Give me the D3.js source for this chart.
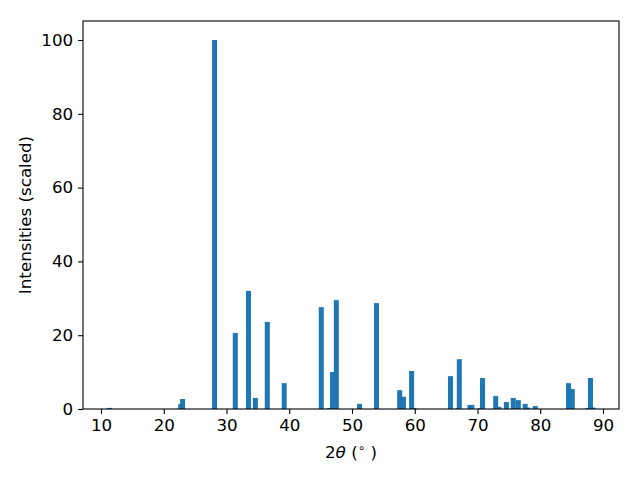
<!DOCTYPE html>
<html><head><meta charset="utf-8">
<script src="https://cdn.jsdelivr.net/npm/d3@7"></script>
<style>body{margin:0;background:#fff}svg{display:block}text{font-family:"DejaVu Sans",sans-serif}</style>
</head><body><svg id="c" width="640" height="480"></svg>
<script>
const twoTheta = [11.35, 22.7, 23.0, 28.1, 31.4, 33.5, 34.6, 36.5, 39.2, 45.1, 46.4, 46.9, 47.5, 51.2, 53.9, 57.6, 58.2, 59.5, 59.9,
  65.7, 66.9, 67.1, 68.8, 69.1, 70.5, 70.8, 72.9, 73.4, 74.6, 75.7, 76.5, 77.6, 78.0, 79.2, 84.5, 85.1, 87.6, 88.0, 88.4];
const intensity = [0.3, 1.3, 2.7, 100, 20.6, 32.0, 3.0, 23.6, 7.0, 27.6, 0.3, 10.0, 29.5, 1.4, 28.7, 5.1, 3.3, 10.3, 0.3,
  8.9, 0.3, 13.5, 1.1, 1.1, 0.3, 8.4, 3.5, 0.6, 1.9, 3.0, 2.4, 1.4, 0.4, 0.8, 7.0, 5.4, 0.3, 8.4, 0.4];
const xTicks = [10, 20, 30, 40, 50, 60, 70, 80, 90];
const yTicks = [0, 20, 40, 60, 80, 100];
const barWidth = 0.8;

const L = 83, R = 619, T = 21, B = 409;
const svg = d3.select("#c");
const x = d3.scaleLinear().domain([7.131, 92.55]).range([L, R]);
const y = d3.scaleLinear().domain([0, 105.15]).range([B, T]);

svg.append("g").selectAll("rect").data(twoTheta).join("rect")
  .attr("x", (d) => x(d - barWidth / 2))
  .attr("width", (d) => x(d + barWidth / 2) - x(d - barWidth / 2))
  .attr("y", (d, i) => y(intensity[i]))
  .attr("height", (d, i) => y(0) - y(intensity[i]))
  .attr("fill", "#1f77b4");

const fs = "16.7px";
const xAxis = svg.append("g").attr("transform", `translate(0,${B})`)
  .call(d3.axisBottom(x).tickValues(xTicks).tickSize(4.9).tickPadding(4.9).tickFormat(d3.format("d")));
const yAxis = svg.append("g").attr("transform", `translate(${L},0)`)
  .call(d3.axisLeft(y).tickValues(yTicks).tickSize(4.9).tickPadding(4.9).tickFormat(d3.format("d")));
[xAxis, yAxis].forEach(g => {
  g.select(".domain").remove();
  g.selectAll("line").attr("stroke", "#000").attr("stroke-width", 1.1);
  g.selectAll("text").attr("font-size", fs).attr("fill", "#000").attr("font-family", "DejaVu Sans");
});

svg.append("rect").attr("x", L).attr("y", T).attr("width", R - L).attr("height", B - T)
  .attr("fill", "none").attr("stroke", "#000").attr("stroke-width", 1.1);

const xl = svg.append("text").attr("x", (L + R) / 2).attr("y", 458).attr("text-anchor", "middle")
  .attr("font-size", fs).attr("fill", "#000");
xl.append("tspan").text("2");
xl.append("tspan").attr("font-style", "italic").text("θ");
xl.append("tspan").text(" (");
xl.append("tspan").attr("font-size", "12px").attr("dy", -6).text("∘");
xl.append("tspan").attr("dy", 6).text(" )");

svg.append("text").attr("transform", `translate(31,${(T + B) / 2}) rotate(-90)`)
  .attr("text-anchor", "middle").attr("font-size", fs).attr("fill", "#000")
  .text("Intensities (scaled)");
</script></body></html>
